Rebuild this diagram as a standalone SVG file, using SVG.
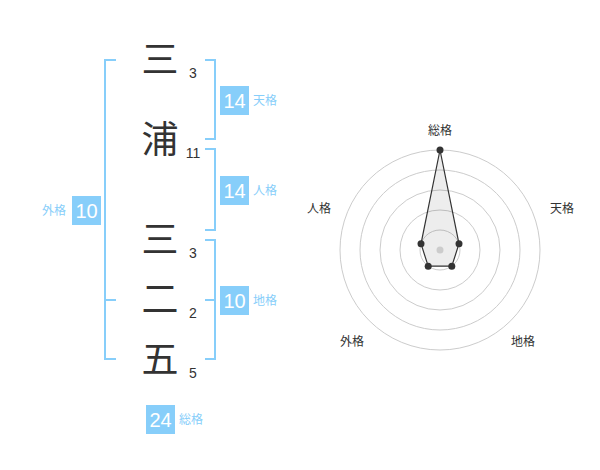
<svg xmlns="http://www.w3.org/2000/svg" width="600" height="470" viewBox="0 0 600 470">
<style>
.ch{font-family:"Noto Sans CJK JP","Noto Sans CJK SC",sans-serif;font-size:37px;fill:#333;text-anchor:middle}
.num{font-family:"Liberation Sans",Arial,sans-serif;font-size:14px;fill:#333;text-anchor:middle}
.br{fill:none;stroke:#87cefa;stroke-width:2}
.box{fill:#87cefa}
.bv{font-family:"Liberation Sans",Arial,sans-serif;font-size:20px;fill:#fff;text-anchor:middle}
.lb{font-family:"Noto Sans CJK JP","Noto Sans CJK SC",sans-serif;font-size:12px;fill:#87cefa}
.rl{font-family:"Noto Sans CJK JP","Noto Sans CJK SC",sans-serif;font-size:12px;fill:#333;text-anchor:middle}
.ring{fill:none;stroke:#ccc;stroke-width:1}
</style>
<rect width="600" height="470" fill="#fff"/>
<g id="chars">
<g id="c1"><text class="ch" x="160" y="73">三</text><text class="num" x="193" y="78">3</text></g>
<g id="c2"><text class="ch" x="160" y="153">浦</text><text class="num" x="193" y="158">11</text></g>
<g id="c3"><text class="ch" x="160" y="253">三</text><text class="num" x="193" y="258">3</text></g>
<g id="c4"><text class="ch" x="160" y="313">二</text><text class="num" x="193" y="318">2</text></g>
<g id="c5"><text class="ch" x="160" y="373">五</text><text class="num" x="193" y="378">5</text></g>
</g>
<g id="connectors">
<path class="br" d="M116,60 H105 V359 H116 M105,300 H116"/>
<path class="br" d="M205,60 H215 V139 H205"/>
<path class="br" d="M205,149 H215 V230 H205"/>
<path class="br" d="M205,240 H215 V359 H205 M215,300 H205"/>
</g>
<g id="gaikaku"><rect class="box" x="72" y="196" width="29" height="29"/><text class="bv" x="86.5" y="217.5">10</text><text class="lb" x="66" y="215" text-anchor="end">外格</text></g>
<g id="tenkaku"><rect class="box" x="220" y="86" width="29" height="29"/><text class="bv" x="234.5" y="107.5">14</text><text class="lb" x="253" y="105">天格</text></g>
<g id="jinkaku"><rect class="box" x="220" y="176" width="29" height="29"/><text class="bv" x="234.5" y="197.5">14</text><text class="lb" x="253" y="195">人格</text></g>
<g id="chikaku"><rect class="box" x="220" y="286" width="29" height="29"/><text class="bv" x="234.5" y="307.5">10</text><text class="lb" x="253" y="305">地格</text></g>
<g id="soukaku"><rect class="box" x="146" y="405" width="29" height="29"/><text class="bv" x="160.5" y="426.5">24</text><text class="lb" x="179" y="424">総格</text></g>
<g id="radar">
<circle class="ring" cx="440" cy="250" r="20"/>
<circle class="ring" cx="440" cy="250" r="40"/>
<circle class="ring" cx="440" cy="250" r="60"/>
<circle class="ring" cx="440" cy="250" r="80"/>
<circle class="ring" cx="440" cy="250" r="100"/>
<polygon points="440,150 459,243.8 451.8,266.2 428.2,266.2 421,243.8" fill="#000" fill-opacity="0.07" stroke="#333" stroke-width="1.2"/>
<circle cx="440" cy="250" r="3.5" fill="#ccc"/>
<g fill="#333">
<circle cx="440" cy="150" r="3.5"/><circle cx="459" cy="243.8" r="3.5"/><circle cx="451.8" cy="266.2" r="3.5"/><circle cx="428.2" cy="266.2" r="3.5"/><circle cx="421" cy="243.8" r="3.5"/>
</g>
<text class="rl" x="440" y="135">総格</text>
<text class="rl" x="562" y="213">天格</text>
<text class="rl" x="319" y="213">人格</text>
<text class="rl" x="352" y="346">外格</text>
<text class="rl" x="523" y="346">地格</text>
</g>
</svg>
